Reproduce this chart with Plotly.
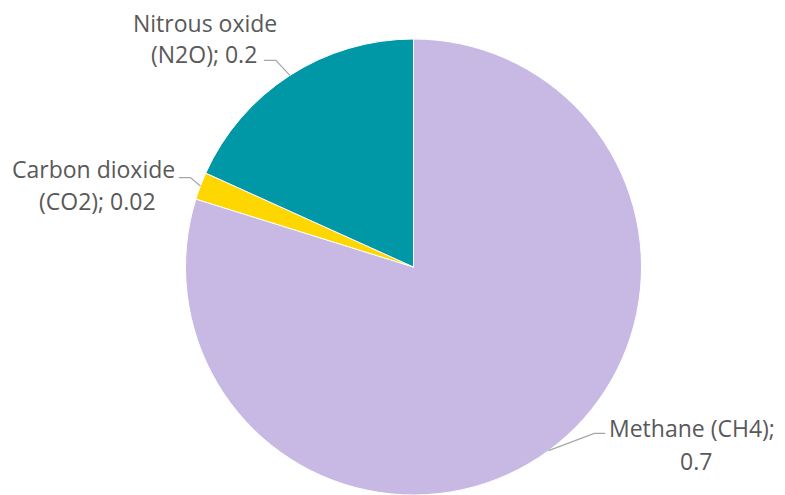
import math
import plotly.graph_objects as go

# ---- data ----
gases = ["Methane (CH4)", "Carbon dioxide (CO2)", "Nitrous oxide (N2O)"]
values = [0.7, 0.017, 0.16]
value_labels = ["0.7", "0.02", "0.2"]
label_lines = [
    ["Methane (CH4);", "0.7"],
    ["Carbon dioxide", "(CO2); 0.02"],
    ["Nitrous oxide", "(N2O); 0.2"],
]
colors = ["#C8B8E4", "#FFD700", "#0097A7"]

W, H = 785, 495
OFF = 8  # page body margin
CX, CY, R = 413.5 - OFF, 267.0 - OFF, 228.0

fig = go.Figure(go.Pie(
    labels=gases,
    values=values,
    sort=False,
    direction="clockwise",
    rotation=0,
    marker=dict(colors=colors, line=dict(color="white", width=1)),
    textinfo="none",
    hoverinfo="label+value",
    showlegend=False,
    domain=dict(x=[(CX - R) / W, (CX + R) / W], y=[1 - (CY + R) / H, 1 - (CY - R) / H]),
))

def px(x, y):
    return x / W, 1 - y / H

# label layout (pixel offsets, styling only)
elbow_off = [(45.7, -17.3), (-10, -8.3), (-14, -15)]
tail_len = [11, -11.5, -12]
text_pos = [((692, 428), (696, 461)), ((93, 169), (97, 201)), ((205, 23), (204, 54))]

total = sum(values)
cum = 0.0
shapes = []
annotations = []
for i, v in enumerate(values):
    mid = (cum + v / 2) / total * 2 * math.pi
    cum += v
    ex = CX + R * math.sin(mid)
    ey = CY - R * math.cos(mid)
    bx, by = ex + elbow_off[i][0], ey + elbow_off[i][1]
    tx = bx + tail_len[i]
    p0, p1, p2 = px(ex, ey), px(bx, by), px(tx, by)
    shapes.append(dict(
        type="path", xref="paper", yref="paper",
        path=f"M {p0[0]} {p0[1]} L {p1[0]} {p1[1]} L {p2[0]} {p2[1]}",
        line=dict(color="#A6A6A6", width=1.2),
    ))
    for line_text, (lx, ly) in zip(label_lines[i], text_pos[i]):
        ax_, ay_ = px(lx - OFF, ly - OFF)
        annotations.append(dict(
            x=ax_, y=ay_, xref="paper", yref="paper", text=line_text,
            showarrow=False, xanchor="center", yanchor="middle", borderpad=0,
            font=dict(family="Open Sans", size=23, color="#595959"),
        ))

fig.update_layout(
    width=W, height=H,
    margin=dict(l=0, r=0, t=0, b=0),
    paper_bgcolor="white", plot_bgcolor="white",
    shapes=shapes, annotations=annotations,
)

fig.write_html("out.html")
